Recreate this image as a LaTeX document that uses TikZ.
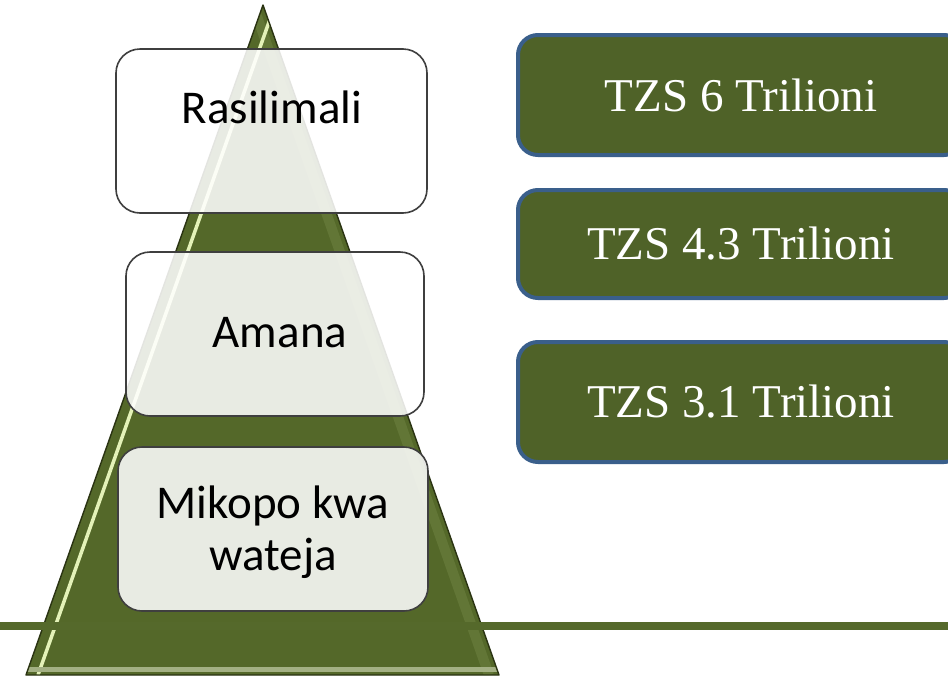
\documentclass[tikz,border=0pt]{standalone}
\usepackage{fontspec}
\newfontfamily\calibfont{Carlito}
\newfontfamily\timesfont{Liberation Serif}
\usetikzlibrary{calc}
\definecolor{valfill}{HTML}{4F6228}
\definecolor{valline}{HTML}{3A5F8B}
\definecolor{boxline}{HTML}{3F3F3F}
\definecolor{trifill}{HTML}{546829}
\definecolor{triedge}{HTML}{2A3312}
\definecolor{hlight}{HTML}{E4F2B8}
\definecolor{rlight}{HTML}{7D9150}
\definecolor{blight}{HTML}{A3B083}
\definecolor{hline}{HTML}{55692B}
\begin{document}
\begin{tikzpicture}[x=1pt,y=-1pt,
  pyrbox/.style={draw=boxline, line width=1.6pt, fill=white, fill opacity=0.87,
    rounded corners=24pt, inner sep=0pt, minimum height=164pt},
  valbox/.style={draw=valline, line width=4pt, fill=valfill, rounded corners=20pt,
    inner sep=0pt, minimum width=446pt, text=white,
    font=\timesfont\fontsize{47}{52}\selectfont},
  lbl/.style={font=\calibfont\fontsize{47}{52}\selectfont, align=center, text=black, inner sep=0pt}]
\clip (0,0) rectangle (948,678);
\fill[white] (0,0) rectangle (948,678);
% pyramid
\coordinate (apex) at (263,5);
\coordinate (bl) at (26,675);
\coordinate (br) at (499,675);
\fill[trifill] (apex) -- (bl) -- (br) -- cycle;
\begin{scope}
  \clip (apex) -- (bl) -- (br) -- cycle;
  \draw[rlight, line width=10pt, opacity=0.35] ($(apex)+(-10,0)$) -- ($(br)+(-10,0)$);
  \draw[hlight, line width=3.5pt] ($(apex)+(12,0)$) -- ($(bl)+(12,0)$);
  \draw[blight, line width=5pt] ($(bl)+(0,-6)$) -- ($(br)+(0,-6)$);
\end{scope}
\draw[triedge, line width=1.4pt, line join=round] (apex) -- (bl) -- (br) -- cycle;
% horizontal line
\coordinate (h1) at (0,626);
\coordinate (h2) at (948,626);
\draw[hline, line width=8pt] (h1) -- (h2);
% pyramid boxes
\node[pyrbox, minimum width=311pt] (b1) at (271.5,131) {};
\node[pyrbox, minimum width=298pt] (b2) at (275,334) {};
\node[pyrbox, minimum width=310pt] (b3) at (273,529) {};
\node[lbl] (t1) at (272,107) {Rasilimali};
\node[lbl] (t2) at (280,333) {Amana};
\node[lbl] (t3) at (273,532) {Mikopo kwa\\wateja};
% value boxes
\node[valbox, minimum height=120pt] (v1) at (741,95) {TZS 6 Trilioni};
\node[valbox, minimum height=108pt] (v2) at (741,244) {TZS 4.3 Trilioni};
\node[valbox, minimum height=120pt] (v3) at (741,402) {TZS 3.1 Trilioni};
\end{tikzpicture}
\end{document}
